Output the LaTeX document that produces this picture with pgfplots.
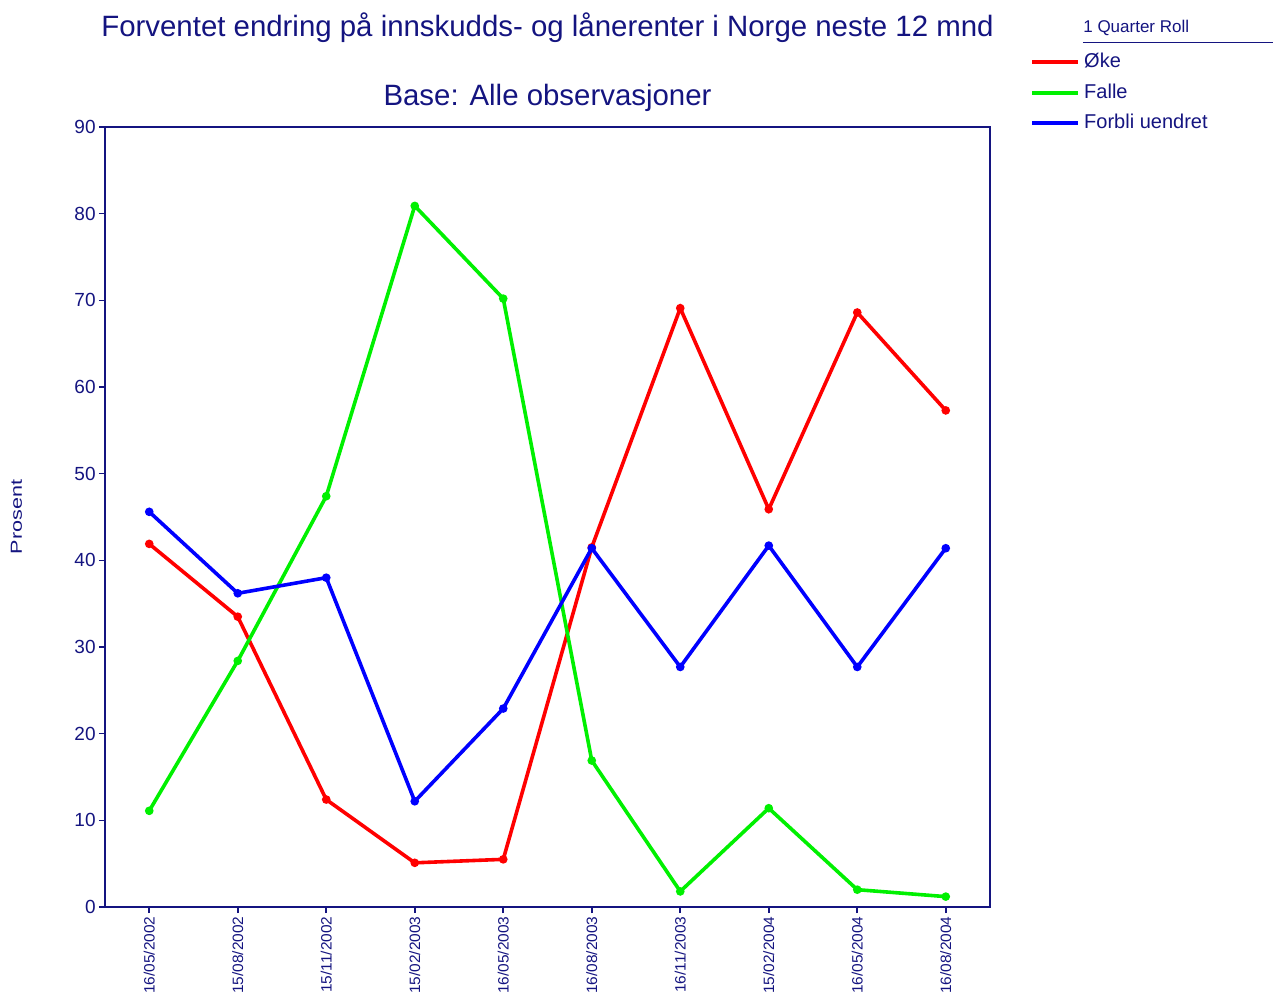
\documentclass[border=0pt]{standalone}
\usepackage{fontspec}
\setmainfont{Liberation Sans}
\usepackage{pgfplots}
\pgfplotsset{compat=1.18}
\definecolor{navy}{RGB}{20,20,128}
\definecolor{cred}{RGB}{255,0,0}
\definecolor{cgreen}{RGB}{0,240,0}
\definecolor{cblue}{RGB}{0,0,255}
\newcommand{\sx}[1]{\scalebox{1.03}[1]{#1}}
\begin{document}
\begin{tikzpicture}
\useasboundingbox (-52.5pt,-43pt) rectangle (584pt,453.5pt);
\begin{axis}[
  at={(0,0)}, anchor=south west,
  scale only axis, width=442.5pt, height=390pt,
  xmin=-0.5, xmax=9.5, ymin=0, ymax=90,
  xtick={0,...,9},
  xticklabels={\sx{16/05/2002},\sx{15/08/2002},\sx{15/11/2002},\sx{15/02/2003},\sx{16/05/2003},\sx{16/08/2003},\sx{16/11/2003},\sx{15/02/2004},\sx{16/05/2004},\sx{16/08/2004}},
  ytick={0,10,...,90},
  tick align=outside, tick pos=left,
  major tick length=3pt,
  axis line style={navy, line width=1pt},
  every tick/.style={navy, line width=0.8pt},
  x tick label style={rotate=90, anchor=east, font=\fontsize{7.5}{9}\selectfont, text=navy, inner sep=1.5pt},
  y tick label style={font=\fontsize{9.5}{11}\selectfont, text=navy, inner sep=1.5pt},
  /pgf/number format/assume math mode=true,
  ylabel={\scalebox{1.35}[1]{Prosent}},
  ylabel style={at={(axis description cs:-0.1,0.5)}, anchor=center, font=\fontsize{8}{10}\selectfont, text=navy},
  legend style={at={(axis description cs:1.045,1.1)}, anchor=north west, draw=none, fill=none,
    font=\fontsize{10}{12}\selectfont, text=navy, row sep=2.5pt, inner sep=0pt,
    /tikz/every even column/.append style={column sep=2pt}},
  legend cell align=left,
  legend image code/.code={\draw[#1, line width=2pt, mark=none] (0pt,0pt) -- (23pt,0pt);},
  clip=false,
]
\addplot[cred, line width=1.8pt, mark=*, mark size=1.2pt] coordinates {
(0,41.9) (1,33.5) (2,12.4) (3,5.1) (4,5.5) (5,41.5) (6,69.1) (7,45.9) (8,68.6) (9,57.3)};
\addlegendentry{Øke}
\addplot[cgreen, line width=1.8pt, mark=*, mark size=1.2pt] coordinates {
(0,11.1) (1,28.4) (2,47.4) (3,80.9) (4,70.2) (5,16.9) (6,1.8) (7,11.4) (8,2.0) (9,1.2)};
\addlegendentry{Falle}
\addplot[cblue, line width=1.8pt, mark=*, mark size=1.2pt] coordinates {
(0,45.6) (1,36.2) (2,38.0) (3,12.2) (4,22.9) (5,41.4) (6,27.7) (7,41.7) (8,27.7) (9,41.4)};
\addlegendentry{Forbli uendret}
\node[font=\fontsize{14.7}{17}\selectfont, text=navy] at (axis description cs:0.5,1.127) {Forventet endring på innskudds- og lånerenter i Norge neste 12 mnd};
\node[font=\fontsize{14.7}{17}\selectfont, text=navy] at (axis description cs:0.5,1.037) {Base: Alle observasjoner};
\node[font=\fontsize{8.5}{10}\selectfont, text=navy, anchor=west, inner sep=0pt] at (axis description cs:1.105,1.127) {1 Quarter Roll};
\draw[navy, line width=0.7pt] (axis description cs:1.105,1.108) -- (axis description cs:1.32,1.108);
\end{axis}
\end{tikzpicture}
\end{document}
